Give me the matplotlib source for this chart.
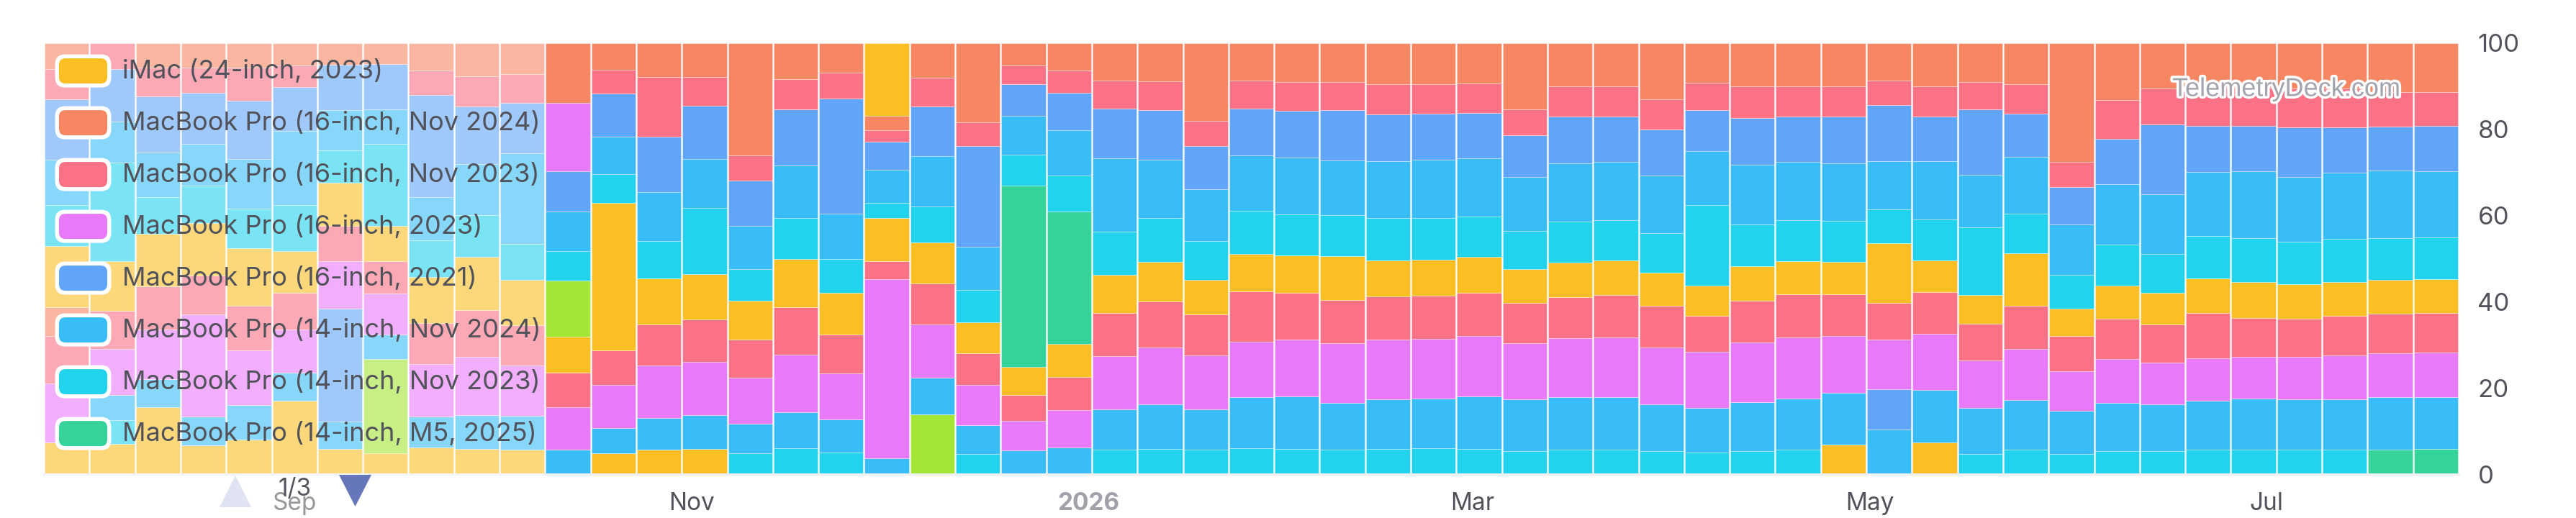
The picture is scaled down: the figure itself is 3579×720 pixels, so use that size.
import numpy as np
import pandas as pd
import matplotlib
matplotlib.use("Agg")
import matplotlib.pyplot as plt
import matplotlib.dates as mdates
import matplotlib.patheffects as pe
from matplotlib.patches import FancyBboxPatch, Rectangle, Polygon

plt.rcParams['font.family'] = ['Inter', 'DejaVu Sans']

N_WEEKS = 53
weeks = pd.date_range("2025-07-28", periods=N_WEEKS, freq="7D")


def sparse(points):
    # series that only show up in a few weeks
    vals = [0.0] * N_WEEKS
    for i, v in points.items():
        vals[i] = v
    return vals


# share of sessions per week (%), legend order (first = top of stack)
imac_24_2023 = sparse({18: 16.8})
mbp16_nov2024 = [6.0, 0, 5.7, 5.7, 5.7, 5.1, 5.0, 4.9, 6.3, 7.6, 7.1,
                 13.8, 6.1, 7.8, 7.9, 26.0, 8.3, 6.9, 3.3, 8.0, 18.3, 5.1, 6.3,
                 8.6, 8.8, 18.1, 8.6, 9.0, 9.0, 9.5, 9.5, 9.3, 15.3, 10.0, 10.0,
                 13.1, 9.1, 10.1, 10.1, 10.1, 8.6, 10.1, 9.0, 9.5, 27.5, 13.2, 10.5,
                 10.4, 10.4, 10.5, 10.5, 11.3, 11.4]
mbp16_nov2023 = [7.0, 6.0, 6.6, 5.8, 7.7, 5.1, 0, 0, 5.7, 7.1, 6.7,
                 0, 5.6, 14.0, 6.7, 5.8, 7.1, 5.9, 2.8, 6.7, 5.5, 4.4, 5.2,
                 6.6, 6.8, 5.8, 6.5, 6.7, 6.5, 7.0, 6.9, 6.9, 6.1, 7.1, 7.0,
                 7.0, 6.4, 7.3, 7.0, 7.0, 5.8, 7.0, 6.3, 6.8, 5.9, 9.1, 8.3,
                 8.8, 8.8, 9.0, 9.0, 8.0, 7.8]
mbp16_2023 = sparse({11: 16.0})
mbp16_2021 = [14.0, 12.2, 13.1, 11.8, 13.5, 10.1, 10.5, 10.4, 23.7, 13.4, 11.7,
              9.3, 9.9, 12.8, 12.3, 10.6, 12.9, 26.8, 6.4, 11.5, 23.5, 7.3, 8.8,
              11.4, 11.5, 10.0, 10.9, 10.9, 11.7, 10.9, 10.7, 10.5, 9.7, 10.8, 10.5,
              10.7, 9.6, 10.8, 10.5, 10.8, 12.9, 10.3, 15.2, 10.0, 8.6, 10.5, 16.3,
              10.6, 10.5, 11.5, 10.5, 10.3, 10.6]
mbp14_nov2024 = [10.5, 9.5, 10.3, 9.8, 11.5, 17.2, 9.3, 8.1, 10.1, 11.8, 21.0,
                 9.2, 8.8, 11.4, 11.3, 9.9, 12.3, 10.6, 7.7, 11.7, 10.0, 9.0, 10.5,
                 17.1, 13.5, 12.0, 12.9, 13.2, 12.7, 13.2, 13.4, 13.5, 12.5, 13.5, 13.5,
                 13.3, 12.5, 13.9, 13.5, 13.4, 11.3, 13.6, 12.2, 13.3, 11.6, 14.0, 13.7,
                 15.0, 15.5, 15.0, 15.5, 15.6, 15.4]
mbp14_nov2023 = [9.6, 22.9, 8.6, 8.6, 9.3, 10.7, 7.6, 19.0, 8.4, 9.6, 8.4,
                 6.9, 6.7, 8.6, 15.4, 7.4, 9.5, 7.8, 3.5, 8.4, 7.4, 7.2, 8.3,
                 9.9, 10.2, 9.0, 10.0, 9.6, 9.4, 9.8, 9.8, 9.4, 8.8, 9.5, 9.4,
                 9.2, 18.6, 9.7, 9.5, 9.4, 7.8, 9.4, 15.8, 9.2, 7.8, 9.6, 9.0,
                 9.8, 10.3, 9.9, 9.9, 9.7, 9.6]
mbp14_m5_2025 = sparse({21: 42.2, 22: 30.8})
# legend pages 2 and 3
mbp14_2023 = sparse({11: 13.0})
mbp14_2021 = [14.1, 11.6, 12.2, 12.2, 13.3, 9.7, 9.9, 8.3, 10.7, 12.3, 10.5,
              8.4, 34.1, 10.7, 10.5, 9.0, 11.1, 9.6, 10.0, 9.5, 7.3, 6.5, 7.6,
              8.9, 9.2, 8.0, 8.7, 8.6, 10.3, 8.5, 8.3, 8.3, 7.8, 8.0, 8.0,
              7.7, 7.0, 8.0, 7.7, 7.5, 13.8, 7.4, 6.6, 12.2, 6.4, 7.6, 7.4,
              8.0, 8.3, 8.0, 7.9, 7.9, 7.8]
mbp13_m2_2022 = sparse({0: 6.8})
mba15_m3_2024 = [10.9, 8.9, 9.9, 9.0, 10.4, 8.4, 8.3, 7.5, 9.5, 10.9, 9.4,
                 7.9, 8.0, 9.5, 9.9, 8.7, 11.1, 9.1, 4.2, 9.4, 7.3, 5.9, 7.7,
                 9.9, 10.6, 9.6, 11.6, 10.9, 10.0, 10.0, 10.0, 10.1, 9.4, 9.6, 9.9,
                 9.6, 8.5, 9.7, 9.9, 9.7, 8.5, 9.7, 8.6, 9.9, 8.1, 9.3, 8.9,
                 10.5, 9.0, 8.9, 9.2, 9.1, 9.2]
mba15_m2_2023 = [13.8, 10.7, 11.5, 23.6, 12.7, 10.1, 10.9, 9.4, 12.2, 13.6, 11.7,
                 9.9, 10.0, 12.2, 12.3, 10.7, 13.4, 10.7, 41.5, 12.4, 9.3, 6.9, 8.7,
                 12.4, 13.2, 12.4, 12.9, 13.2, 13.8, 13.9, 13.8, 14.0, 13.1, 13.6, 13.9,
                 13.2, 13.0, 13.8, 14.2, 13.3, 11.6, 13.1, 11.0, 11.9, 9.3, 10.2, 9.6,
                 9.8, 9.7, 9.9, 10.2, 10.2, 10.5]
mba13_m3_2024 = sparse({6: 26.3, 40: 9.3})
mba13_m2_2022 = [0, 5.8, 6.6, 6.8, 8.0, 6.5, 6.3, 5.7, 7.3, 7.8, 7.8,
                 5.7, 5.8, 7.4, 7.9, 6.8, 8.3, 7.7, 3.7, 8.6, 6.8, 5.5, 6.2,
                 9.3, 10.3, 9.5, 11.8, 12.2, 10.9, 11.4, 11.6, 12.2, 11.9, 12.2, 12.1,
                 10.9, 10.3, 11.3, 12.0, 11.9, 10.3, 12.2, 10.6, 11.6, 9.9, 11.2, 10.8,
                 11.4, 11.8, 11.6, 11.7, 12.2, 11.9]
mba13_m1_2020 = [0, 5.5, 0, 0, 0, 0, 0, 0, 0, 0, 0,
                 0, 0, 0, 0, 4.9, 6.0, 5.0, 0, 0, 4.6, 0, 0,
                 5.7, 5.9, 5.6, 6.0, 5.9, 5.6, 5.9, 6.0, 5.8, 5.4, 5.7, 5.7,
                 5.3, 5.0, 5.4, 5.6, 0, 0, 0, 4.7, 5.6, 4.7, 5.4, 5.4,
                 5.7, 5.7, 5.7, 5.7, 0, 0]
mac_mini_2024 = sparse({51: 5.7, 52: 5.9})
mac_studio_2025 = sparse({7: 21.9, 19: 13.8})
mac_studio_2023 = sparse({0: 7.3, 1: 7.0, 2: 15.5, 3: 6.6, 4: 8.1, 5: 17.0, 6: 5.8,
                          7: 4.9, 8: 6.1, 9: 5.8, 10: 5.7, 12: 4.9, 13: 5.7, 14: 5.8,
                          39: 6.9, 41: 7.3})

series_names = [
    "iMac (24-inch, 2023)",
    "MacBook Pro (16-inch, Nov 2024)",
    "MacBook Pro (16-inch, Nov 2023)",
    "MacBook Pro (16-inch, 2023)",
    "MacBook Pro (16-inch, 2021)",
    "MacBook Pro (14-inch, Nov 2024)",
    "MacBook Pro (14-inch, Nov 2023)",
    "MacBook Pro (14-inch, M5, 2025)",
    "MacBook Pro (14-inch, 2023)",
    "MacBook Pro (14-inch, 2021)",
    "MacBook Pro (13-inch, M2, 2022)",
    "MacBook Air (15-inch, M3, 2024)",
    "MacBook Air (15-inch, M2, 2023)",
    "MacBook Air (13-inch, M3, 2024)",
    "MacBook Air (13-inch, M2, 2022)",
    "MacBook Air (M1, 2020)",
    "Mac mini (2024)",
    "Mac Studio (2025)",
    "Mac Studio (2023)",
]
series_values = [
    imac_24_2023, mbp16_nov2024, mbp16_nov2023, mbp16_2023, mbp16_2021,
    mbp14_nov2024, mbp14_nov2023, mbp14_m5_2025, mbp14_2023, mbp14_2021,
    mbp13_m2_2022, mba15_m3_2024, mba15_m2_2023, mba13_m3_2024, mba13_m2_2022,
    mba13_m1_2020, mac_mini_2024, mac_studio_2025, mac_studio_2023,
]
palette = ['#FBBF24', '#F78663', '#FB7185', '#E879F9', '#60A5FA',
           '#38BDF8', '#22D3EE', '#34D399', '#A3E635']

tick_dates = ["2025-09-01", "2025-11-01", "2026-01-01", "2026-03-01", "2026-05-01", "2026-07-01"]
tick_labels = ["Sep", "Nov", "2026", "Mar", "May", "Jul"]

W, H = 3579, 720
fig = plt.figure(figsize=(W / 100, H / 100), dpi=100)
ax = fig.add_axes([61 / W, 1 - 659 / H, (3416 - 61) / W, (659 - 60) / H])

x = mdates.date2num(weeks.to_pydatetime())
data = np.array(series_values, dtype=float)
data = data / data.sum(axis=0) * 100  # percent stack

bottom = np.zeros(N_WEEKS)
for k in range(len(series_names) - 1, -1, -1):
    ax.bar(x, data[k], width=6.78, bottom=bottom, color=palette[k % len(palette)],
           edgecolor=(1, 1, 1, 0.35), linewidth=0.7, label=series_names[k])
    bottom += data[k]

ax.set_ylim(0, 100)
ax.set_xlim(x[0] - 3.5, x[-1] + 3.5)
ax.set_yticks(range(0, 101, 20))
ax.yaxis.tick_right()
ax.tick_params(axis='y', length=0, pad=19, labelsize=25, labelcolor='#52525b')
ax.set_xticks(mdates.date2num(pd.to_datetime(tick_dates).to_pydatetime()))
ax.set_xticklabels(tick_labels)
ax.tick_params(axis='x', length=0, pad=18, labelsize=24, labelcolor='#52525b')
for lbl in ax.get_xticklabels():
    if lbl.get_text() == "2026":
        lbl.set_fontweight('bold')
        lbl.set_color('#a1a1aa')
for side in ['top', 'left', 'right']:
    ax.spines[side].set_visible(False)
ax.spines['bottom'].set_color('#eeeeee')
ax.spines['bottom'].set_linewidth(2.2)

# overlay in pixel coords for the legend box, pager and watermark
ov = fig.add_axes([0, 0, 1, 1], zorder=5)
ov.set_xlim(0, W)
ov.set_ylim(H, 0)
ov.axis('off')
ov.patch.set_alpha(0)

ov.add_patch(Rectangle((61, 60), 757 - 61, H - 60, facecolor='white', alpha=0.4,
                       edgecolor='none'))

for i, name in enumerate(series_names[:8]):
    cy = 98.6 + 72 * i
    ov.add_patch(FancyBboxPatch((76.5, cy - 23), 78, 46,
                                boxstyle="round,pad=0,rounding_size=14",
                                facecolor='white', edgecolor='none'))
    ov.add_patch(FancyBboxPatch((82, cy - 17.5), 67, 35,
                                boxstyle="round,pad=0,rounding_size=9",
                                facecolor=palette[i % len(palette)], edgecolor='none'))
    ov.text(170, cy, name, fontsize=26, color='#52525b', va='center', ha='left')

ov.add_patch(Polygon([(305, 705), (349, 705), (327, 661)], closed=True,
                     facecolor='#dfe3f2', edgecolor='none'))
ov.add_patch(Polygon([(471, 660), (516, 660), (493.5, 704)], closed=True,
                     facecolor='#6577ba', edgecolor='none'))
ov.text(410, 680, "1/3", fontsize=24, color='#55555e', va='center', ha='center')

ov.text(3018, 124, "TelemetryDeck.com", fontsize=26, color='#a2a5ae', va='center',
        ha='left', family=['Liberation Sans', 'DejaVu Sans'],
        path_effects=[pe.withStroke(linewidth=5, foreground='white')])

fig.savefig("out.png", dpi=100)
